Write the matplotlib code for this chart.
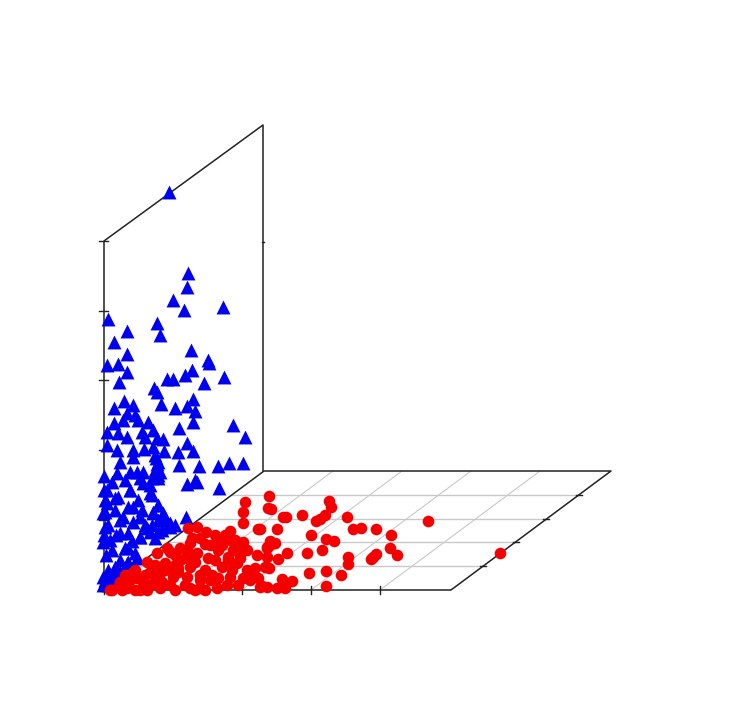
import matplotlib
matplotlib.use("Agg")
import matplotlib.pyplot as plt

# values, in picture pixels
blue_x = [169, 188, 187, 173, 184, 223, 108, 157, 160, 127, 114, 191, 127, 208,
          107, 118, 127, 119, 209, 192, 185, 224, 204, 167, 173, 154, 157, 124, 133, 114,
          161, 175, 187, 193, 195, 193, 179, 233, 245, 187, 193, 178, 179, 199, 218, 229, 243,
          127, 135, 138, 123, 114, 148, 107, 118, 127, 142, 145, 153, 157, 163, 107, 117, 133, 133,
          144, 153, 164, 155, 158, 120, 157, 158, 104, 117, 130, 137, 143,
          187, 197, 219, 195, 186, 158, 153, 163, 104, 112, 125, 140, 150, 158, 105, 118, 130, 138, 152,
          105, 115, 128, 142, 108, 120, 133, 145, 158, 170, 104, 116, 128, 140, 150, 162,
          112, 125, 135, 120, 128, 108, 115, 103, 110, 120, 104, 110, 115, 165, 175, 106, 132,
          156, 157, 155, 160, 152, 107, 107, 103, 105, 103, 110, 120, 123, 133, 115, 143, 150, 130,
          140, 147, 155, 140, 128, 137, 127, 117, 110, 105, 103, 108, 158, 153, 162, 170, 158, 152, 165]
blue_y = [192, 273, 287, 300, 310, 307, 319, 323, 335, 331, 342, 350, 354, 360,
          365, 364, 372, 382, 363, 370, 375, 377, 383, 379, 379, 388, 392, 401, 405, 408,
          404, 408, 406, 399, 411, 422, 428, 425, 437, 443, 451, 452, 465, 466, 466, 463, 463,
          413, 415, 420, 420, 423, 422, 432, 433, 437, 432, 437, 430, 438, 439, 445, 450, 450, 457,
          449, 447, 451, 455, 462, 462, 468, 475, 476, 473, 472, 472, 472,
          484, 482, 488, 480, 517, 505, 513, 513, 490, 482, 480, 478, 485, 478, 500, 497, 490, 500, 495,
          512, 510, 507, 510, 525, 520, 522, 525, 520, 523, 535, 535, 533, 537, 532, 530,
          550, 548, 553, 560, 562, 570, 567, 577, 575, 572, 584, 582, 578, 520, 525, 555, 541,
          458, 464, 470, 472, 478, 490, 503, 513, 527, 542, 540, 533, 517, 507, 498, 483, 493, 490,
          517, 528, 538, 537, 548, 558, 563, 570, 575, 580, 585, 585, 505, 512, 520, 527, 532, 525, 517]

red_x = [269, 329, 331, 271, 283, 286, 302, 325, 320, 316, 347, 428, 277, 260, 353, 361, 376, 391,
         311, 326, 334, 270, 275, 267, 270, 390, 397, 376, 373, 371, 322, 307, 287, 500, 348, 348,
         278, 267, 269, 309, 326, 341, 326, 282, 292, 285, 285, 277, 267, 262,
         245, 243, 243, 268, 258, 188, 197, 206, 215, 230, 225, 167, 192, 205, 217, 235, 243, 247,
         257, 267, 187, 197, 208, 218, 233, 157, 175, 147, 165, 180, 190, 205, 222, 237, 247, 265,
         133, 150, 160, 173, 187, 200, 218, 230, 250, 120, 130, 143, 155, 170, 185,
         217, 227, 238, 260, 110, 118, 127, 140, 172, 193, 212, 240, 252, 155, 137, 178, 200, 228,
         112, 122, 135, 147, 160, 175, 190, 205, 135, 125, 145, 155, 165, 175, 185, 195, 170, 180, 190,
         200, 210, 222, 230, 240, 215, 228, 240, 200, 210, 178, 162, 150, 195, 232, 255, 258, 243]
red_y = [496, 501, 507, 509, 517, 517, 515, 515, 519, 521, 517, 521, 529, 529, 529, 528, 529, 535,
         535, 539, 541, 541, 543, 547, 545, 548, 555, 554, 557, 559, 550, 553, 553, 553, 557, 564,
         559, 557, 568, 573, 571, 575, 586, 579, 581, 583, 588, 588, 587, 586,
         502, 512, 523, 508, 529, 528, 527, 532, 535, 531, 535, 548, 538, 544, 542, 540, 542, 550,
         555, 548, 550, 553, 558, 550, 550, 553, 555, 562, 563, 560, 567, 570, 567, 563, 570, 567,
         572, 572, 573, 577, 577, 580, 578, 577, 580, 582, 580, 582, 580, 585, 585,
         588, 585, 585, 587, 590, 587, 588, 590, 570, 558, 575, 555, 575, 566, 578, 568, 588, 560,
         590, 590, 590, 590, 588, 590, 588, 590, 570, 575, 575, 565, 570, 565, 558, 562, 552, 548, 543,
         538, 545, 545, 540, 550, 560, 557, 558, 575, 580, 572, 582, 585, 590, 570, 568, 578, 578]

z_ticks = [241, 311, 380, 450, 520, 590]
x_ticks = [104, 173, 242, 311, 380]
depth_ticks = [566, 542, 519, 495]

FLOOR_FRONT = 590
FLOOR_BACK = 471
LEFT = 104
RIGHT = 451
SHIFT = 160  # sideways shift from floor front to floor back
WALL_TOP = 241
WALL_BACK_TOP = 125

fig = plt.figure(figsize=(7.48, 7.02), dpi=100)
ax = fig.add_axes([0, 0, 1, 1])
ax.set_xlim(0, 748)
ax.set_ylim(702, 0)
ax.axis("off")


def depth_offset(y):
    return (FLOOR_FRONT - y) / (FLOOR_FRONT - FLOOR_BACK) * SHIFT


# floor grid
grid = "#c9c9c9"
for y in depth_ticks:
    ax.plot([LEFT + depth_offset(y), RIGHT + depth_offset(y)], [y, y], color=grid, lw=1.0, zorder=1)
for x in x_ticks[1:]:
    ax.plot([x, x + SHIFT], [FLOOR_FRONT, FLOOR_BACK], color=grid, lw=0.8, zorder=1)

# frame
frame = "#222222"
ax.plot([LEFT, RIGHT, RIGHT + SHIFT, LEFT + SHIFT, LEFT],
        [FLOOR_FRONT, FLOOR_FRONT, FLOOR_BACK, FLOOR_BACK, FLOOR_FRONT], color=frame, lw=1.1, zorder=2)
ax.plot([LEFT, LEFT, LEFT + SHIFT - 1, LEFT + SHIFT - 1],
        [FLOOR_FRONT, WALL_TOP, WALL_BACK_TOP, FLOOR_BACK], color=frame, lw=1.1, zorder=2)

# ticks
for y in z_ticks:
    ax.plot([LEFT - 5, LEFT + 4], [y, y], color=frame, lw=1.0, zorder=2)
ax.plot([LEFT + SHIFT - 2, LEFT + SHIFT], [242, 242], color=frame, lw=1.0, zorder=2)
for x in x_ticks:
    ax.plot([x, x], [FLOOR_FRONT - 4, FLOOR_FRONT + 4], color=frame, lw=1.0, zorder=2)
for y in depth_ticks:
    ax.plot([RIGHT + depth_offset(y) - 3, RIGHT + depth_offset(y) + 3], [y, y], color=frame, lw=1.0, zorder=2)

ax.scatter(blue_x, blue_y, marker="^", s=100, color="#0000f0", linewidths=0, zorder=3)
ax.scatter(red_x, red_y, marker="o", s=70, color="#f50000", linewidths=0, zorder=4)

fig.savefig("out.png", dpi=100)
